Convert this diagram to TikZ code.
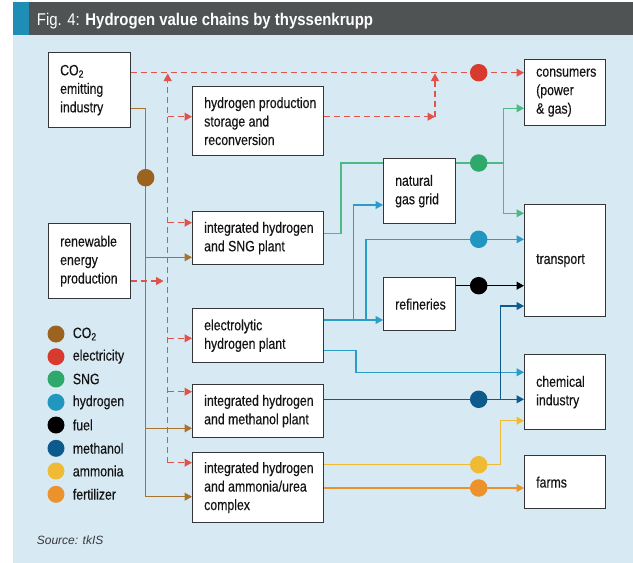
\documentclass[tikz,border=0pt]{standalone}
\usepackage{fontspec}
\setmainfont{Liberation Sans}[FakeStretch=0.88]
\newfontfamily\srcfont{Liberation Sans}
\newfontfamily\boxfont{Liberation Sans}[FakeStretch=0.82,FakeBold=0.3]
\usetikzlibrary{arrows.meta}
\definecolor{bgblue}{HTML}{D7EAF4}
\definecolor{hdr}{HTML}{4F5354}
\definecolor{strip}{HTML}{1F8EB6}
\definecolor{cco2}{HTML}{9C6220}
\definecolor{lco2}{HTML}{A8732F}
\definecolor{celec}{HTML}{D83A2E}
\definecolor{lelec}{HTML}{E0524A}
\definecolor{csng}{HTML}{2FA86B}
\definecolor{lsng}{HTML}{4DB985}
\definecolor{chyd}{HTML}{2196BE}
\definecolor{lhyd}{HTML}{2A9CC5}
\definecolor{cmeth}{HTML}{0D5B8D}
\definecolor{camm}{HTML}{F0BB34}
\definecolor{cfert}{HTML}{EB922C}
\definecolor{boxline}{HTML}{34363A}
\definecolor{txtc}{HTML}{141414}
\newcommand\mybox[6]{%
  \node[box, minimum width={(#4-#2)*1pt}, minimum height={(#5-#3)*1pt}] (#1) at (#2,#3) {};
  \node[txt] (#1-t) at ([xshift=12pt]#1.west) {#6};}
\begin{document}
\begin{tikzpicture}[x=1pt,y=-1pt,
  box/.style={draw=boxline, line width=1.3pt, fill=white, inner sep=0pt, anchor=north west},
  txt/.style={anchor=west, align=left, inner sep=0pt, font=\boxfont\fontsize{15}{18.5}\selectfont, text=txtc},
  ln/.style={line width=1.1pt},
  arr/.style={-{Triangle[length=7.5pt,width=8pt]}},
  elec/.style={ln, lelec, dash pattern=on 6pt off 4pt},
  dot/.style={circle, inner sep=0pt, minimum size=17.5pt},
  lgd/.style={circle, inner sep=0pt, minimum size=17pt},
  lgt/.style={anchor=west, inner sep=0pt, font=\boxfont\fontsize{15}{18}\selectfont, text=txtc}]
\useasboundingbox (0,0) rectangle (633,563);
\fill[white] (0,0) rectangle (633,563);
\fill[bgblue] (13.3,35) rectangle (633,563);
\fill[hdr] (13.3,2) rectangle (633,35);
\fill[strip] (13.3,2) rectangle (29.3,35);
\node[anchor=base west, text=white, font=\fontsize{17}{20}\selectfont, inner sep=0pt] (title) at (36.7,25.5) {Fig. 4: \textbf{Hydrogen value chains by thyssenkrupp}};

% boxes
\mybox{co2}{48}{52}{130}{127}{CO\textsubscript{2}\\emitting\\industry}
\mybox{renew}{48}{223}{130}{298}{renewable\\energy\\production}
\mybox{hps}{192}{86}{323}{155}{hydrogen production\\storage and\\reconversion}
\mybox{sng}{192}{211}{323}{264}{integrated hydrogen\\and SNG plant}
\mybox{ely}{192}{308}{323}{362}{electrolytic\\hydrogen plant}
\mybox{meth}{192}{384}{323}{437}{integrated hydrogen\\and methanol plant}
\mybox{amm}{192}{452}{323}{522}{integrated hydrogen\\and ammonia/urea\\complex}
\mybox{ngg}{383}{158}{455}{223}{natural\\gas grid}
\mybox{ref}{383}{277}{455}{330}{refineries}
\mybox{cons}{524}{59}{605}{125}{consumers\\(power\\\& gas)}
\mybox{trans}{524}{204}{605}{316}{transport}
\mybox{chem}{524}{354}{605}{429}{chemical\\industry}
\mybox{farms}{524}{455}{605}{508}{farms}

% CO2
\draw[ln,lco2,arr] (co2.east |- 0,108.3) -- (145.7,108.3) -- (145.7,496.7) -- (amm.west |- 0,496.7);
\draw[ln,lco2,arr] (145.7,257.3) -- (sng.west |- 0,257.3);
\draw[ln,lco2,arr] (145.7,428.3) -- (meth.west |- 0,428.3);

% electricity
\draw[elec,arr] (co2.east |- 0,72.7) -- (cons.west |- 0,72.7);
\draw[elec,arr] (167.7,462.7) -- (167.7,73.5);
\draw[elec,arr] (167.7,116.7) -- (hps.west |- 0,116.7);
\draw[elec,arr] (167.7,222.7) -- (sng.west |- 0,222.7);
\draw[elec,arr] (167.7,338.3) -- (ely.west |- 0,338.3);
\draw[elec,arr] (167.7,391.7) -- (meth.west |- 0,391.7);
\draw[elec,arr] (167.7,462.7) -- (amm.west |- 0,462.7);
\draw[elec,arr] (renew.east |- 0,281) -- (163.5,281);
\draw[elec,arr] (hps.east |- 0,116.7) -- (435,116.7);
\coordinate (hc) at (435,116.7);
\draw[elec,arr] (hc) -- (435,73.5);

% SNG
\draw[ln,lsng] (sng.east |- 0,233.3) -- (341,233.3) -- (341,163) -- (ngg.west |- 0,163);
\draw[ln,lsng] (ngg.east |- 0,163) -- (503.3,163);
\draw[ln,lsng,arr] (503.3,163) -- (503.3,108.3) -- (cons.west |- 0,108.3);
\draw[ln,lsng,arr] (503.3,163) -- (503.3,213.3) -- (trans.west |- 0,213.3);

% hydrogen
\draw[ln,lhyd,arr] (ely.east |- 0,320) -- (ref.west |- 0,320);
\draw[ln,lhyd,arr] (353.3,320) -- (353.3,205) -- (ngg.west |- 0,205);
\draw[ln,lhyd,arr] (366,320) -- (366,239.3) -- (trans.west |- 0,239.3);
\draw[ln,lhyd,arr] (ely.east |- 0,350.7) -- (356,350.7) -- (356,372.3) -- (chem.west |- 0,372.3);

% fuel
\draw[ln,black,arr] (ref.east |- 0,285.7) -- (trans.west |- 0,285.7);

% methanol
\draw[ln,cmeth,arr] (meth.east |- 0,399.3) -- (chem.west |- 0,399.3);
\draw[ln,cmeth,arr] (500.3,399.3) -- (500.3,306) -- (trans.west |- 0,306);

% ammonia
\draw[ln,camm,arr] (amm.east |- 0,464.7) -- (500.3,464.7) -- (500.3,420.7) -- (chem.west |- 0,420.7);

% fertilizer
\draw[ln,cfert,arr] (amm.east |- 0,488) -- (farms.west |- 0,488);

% dots on lines
\node[dot,fill=cco2] (dco2) at (145.7,177.7) {};
\node[dot,fill=celec] (delec) at (478.7,72.7) {};
\node[dot,fill=csng] (dsng) at (478.7,163) {};
\node[dot,fill=chyd] (dhyd) at (478.7,239.3) {};
\node[dot,fill=black] (dfuel) at (478.7,285.7) {};
\node[dot,fill=cmeth] (dmeth) at (478.7,399.3) {};
\node[dot,fill=camm] (damm) at (478.7,464.7) {};
\node[dot,fill=cfert] (dfert) at (478.7,488) {};

% legend
\node[lgd,fill=cco2] (l1) at (56,334) {};
\node[lgt] (l1t) at (72.7,334) {CO\textsubscript{2}};
\node[lgd,fill=celec] (l2) at (56,356.7) {};
\node[lgt] (l2t) at (72.7,356.7) {electricity};
\node[lgd,fill=csng] (l3) at (56,379) {};
\node[lgt] (l3t) at (72.7,379) {SNG};
\node[lgd,fill=chyd] (l4) at (56,402.3) {};
\node[lgt] (l4t) at (72.7,402.3) {hydrogen};
\node[lgd,fill=black] (l5) at (56,425) {};
\node[lgt] (l5t) at (72.7,425) {fuel};
\node[lgd,fill=cmeth] (l6) at (56,448.3) {};
\node[lgt] (l6t) at (72.7,448.3) {methanol};
\node[lgd,fill=camm] (l7) at (56,471) {};
\node[lgt] (l7t) at (72.7,471) {ammonia};
\node[lgd,fill=cfert] (l8) at (56,494.3) {};
\node[lgt] (l8t) at (72.7,494.3) {fertilizer};

\node[anchor=base west, inner sep=0pt, font=\srcfont\itshape\fontsize{12}{14}\selectfont, text=txtc!85] (src) at (36.7,544.5) {Source: tkIS};
\end{tikzpicture}
\end{document}
